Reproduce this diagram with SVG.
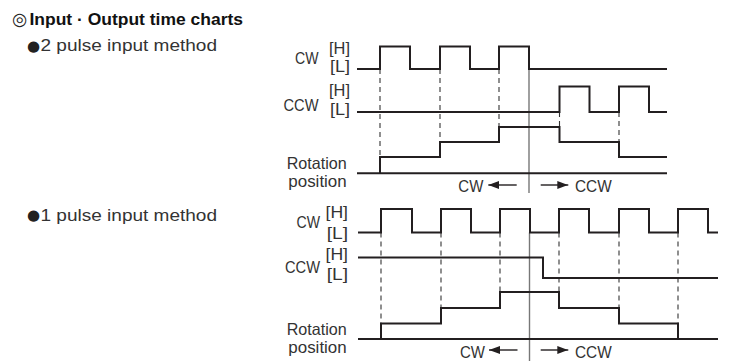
<svg xmlns="http://www.w3.org/2000/svg" width="735" height="361" viewBox="0 0 735 361">
<defs>
<style>
.sig{fill:none;stroke:#231f20;stroke-width:2;stroke-linejoin:miter}
.dash{fill:none;stroke:#333;stroke-width:1.1;stroke-dasharray:5 4}
.axis{fill:none;stroke:#777;stroke-width:1.4}
.arr{fill:none;stroke:#231f20;stroke-width:1.4}
.t{font-family:"Liberation Sans",Arial,sans-serif;font-size:16.5px;fill:#333}
.m{font-family:"Liberation Sans",Arial,sans-serif;font-size:16px;fill:#333}
.sym{font-family:"DejaVu Sans",sans-serif;fill:#222}
.title{font-family:"Liberation Sans",Arial,sans-serif;font-size:17px;font-weight:bold;fill:#111}
</style>
<marker id="ah" viewBox="0 0 11 8" refX="11" refY="4" markerWidth="11" markerHeight="8" orient="auto" markerUnits="userSpaceOnUse">
<path d="M0,0 L11,4 L0,8 z" fill="#231f20"/>
</marker>
</defs>
<rect width="735" height="361" fill="#fff"/>

<g id="headings">
<text class="sym" x="12" y="25" font-size="17.5" fill="#444">◎</text>
<text class="title" x="29.5" y="25" textLength="213.5" lengthAdjust="spacingAndGlyphs">Input · Output time charts</text>
<text class="sym" x="27" y="50.5" font-size="15">●</text>
<text class="m" x="40.5" y="51" textLength="176.5" lengthAdjust="spacingAndGlyphs">2 pulse input method</text>
<text class="sym" x="27" y="220" font-size="15">●</text>
<text class="m" x="40.5" y="220.5" textLength="176.5" lengthAdjust="spacingAndGlyphs">1 pulse input method</text>
</g>

<g id="chart1-labels">
<text class="t" x="295" y="63.5" textLength="23.5" lengthAdjust="spacingAndGlyphs">CW</text>
<text class="t" x="329" y="53.5" textLength="21" lengthAdjust="spacingAndGlyphs">[H]</text>
<text class="t" x="330" y="72" textLength="20" lengthAdjust="spacingAndGlyphs">[L]</text>
<text class="t" x="283.5" y="111" textLength="35" lengthAdjust="spacingAndGlyphs">CCW</text>
<text class="t" x="329" y="96" textLength="21" lengthAdjust="spacingAndGlyphs">[H]</text>
<text class="t" x="330" y="115" textLength="20" lengthAdjust="spacingAndGlyphs">[L]</text>
<text class="t" x="286.7" y="169" textLength="60" lengthAdjust="spacingAndGlyphs">Rotation</text>
<text class="t" x="288.3" y="186.5" textLength="58.4" lengthAdjust="spacingAndGlyphs">position</text>
<text class="t" x="458.3" y="192.3" textLength="25" lengthAdjust="spacingAndGlyphs">CW</text>
<text class="t" x="575" y="192.3" textLength="36.7" lengthAdjust="spacingAndGlyphs">CCW</text>
</g>

<g id="chart2-labels">
<text class="t" x="296.5" y="228.3" textLength="23.5" lengthAdjust="spacingAndGlyphs">CW</text>
<text class="t" x="325.5" y="217.5" textLength="22.5" lengthAdjust="spacingAndGlyphs">[H]</text>
<text class="t" x="326.7" y="239" textLength="21.3" lengthAdjust="spacingAndGlyphs">[L]</text>
<text class="t" x="285" y="273.3" textLength="35" lengthAdjust="spacingAndGlyphs">CCW</text>
<text class="t" x="325.5" y="260" textLength="22.5" lengthAdjust="spacingAndGlyphs">[H]</text>
<text class="t" x="326.7" y="280" textLength="21.3" lengthAdjust="spacingAndGlyphs">[L]</text>
<text class="t" x="286.7" y="335" textLength="60" lengthAdjust="spacingAndGlyphs">Rotation</text>
<text class="t" x="288.3" y="352.5" textLength="58.4" lengthAdjust="spacingAndGlyphs">position</text>
<text class="t" x="460" y="357.5" textLength="25" lengthAdjust="spacingAndGlyphs">CW</text>
<text class="t" x="575" y="357.5" textLength="36.7" lengthAdjust="spacingAndGlyphs">CCW</text>
</g>

<g id="connectors">
<!-- chart 1 -->
<line class="axis" x1="529" y1="69" x2="529" y2="193"/>
<line class="dash" x1="380" y1="69" x2="380" y2="157"/>
<line class="dash" x1="440" y1="69" x2="440" y2="142"/>
<line class="dash" x1="499" y1="69" x2="499" y2="127"/>
<line class="dash" x1="559.5" y1="112" x2="559.5" y2="127"/>
<line class="dash" x1="619" y1="112" x2="619" y2="142"/>
<path class="sig" d="M357,69 H380 V46.5 H410 V69 H440 V46.5 H470 V69 H499 V46.5 H529 V69 H667"/>
<path class="sig" d="M357,112 H559.5 V86.5 H589.5 V112 H619 V86.5 H649 V112 H667"/>
<path class="sig" d="M357,173.3 H667"/>
<path class="sig" d="M380,173.3 V157 H440 V142 H499 V127 H559.5 V142 H619 V157 H667"/>
<line class="arr" x1="516.7" y1="185" x2="488.3" y2="185" marker-end="url(#ah)"/>
<line class="arr" x1="540.7" y1="185" x2="568.3" y2="185" marker-end="url(#ah)"/>

<!-- chart 2 -->
<line class="axis" x1="529.5" y1="232.5" x2="529.5" y2="361"/>
<line class="dash" x1="381" y1="232.5" x2="381" y2="323.5"/>
<line class="dash" x1="441" y1="232.5" x2="441" y2="308"/>
<line class="dash" x1="500" y1="232.5" x2="500" y2="292"/>
<line class="dash" x1="559" y1="232.5" x2="559" y2="292"/>
<line class="dash" x1="619" y1="232.5" x2="619" y2="308"/>
<line class="dash" x1="678" y1="232.5" x2="678" y2="323.5"/>
<path class="sig" d="M358,232.5 H381 V209 H412 V232.5 H441 V209 H471 V232.5 H500 V209 H530 V232.5 H559 V209 H589 V232.5 H619 V209 H649 V232.5 H678 V209 H708 V232.5 H718"/>
<path class="sig" d="M358,257.5 H543 V278 H718"/>
<path class="sig" d="M358,339 H718"/>
<path class="sig" d="M381,339 V323.5 H441 V308 H500 V292 H559 V308 H619 V323.5 H678 V339"/>
<line class="arr" x1="517.5" y1="350" x2="489" y2="350" marker-end="url(#ah)"/>
<line class="arr" x1="540.7" y1="350" x2="568.3" y2="350" marker-end="url(#ah)"/>
</g>
</svg>
